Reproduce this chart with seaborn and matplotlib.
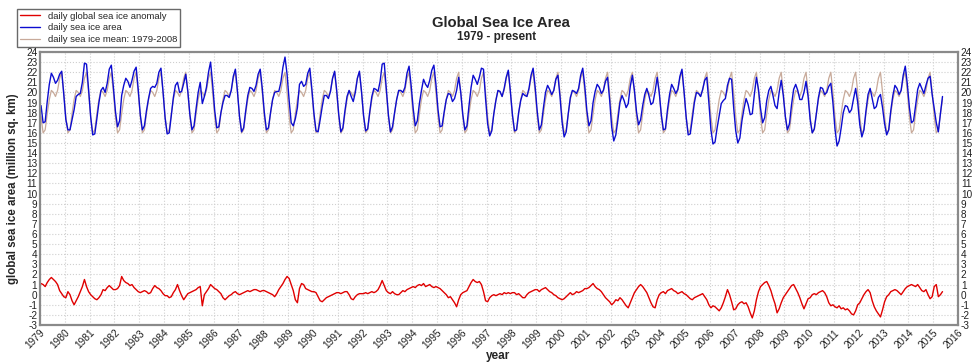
import numpy as np
import pandas as pd
from matplotlib import pyplot as plt
import seaborn as sns

# 1979-2008 mean, mid-month values (million sq. km)
mean_monthly = [17.6, 16.0, 16.3, 17.9, 19.3, 20.2, 20.0, 19.6, 20.2, 21.4, 22.0, 20.0]

# monthly anomaly, Jan..Dec, 1979 .. May 2015
anomaly = [
    1.1, 1.0, 0.8, 1.2, 1.5, 1.7, 1.5, 1.3, 1.0, 0.4, 0.1, -0.2,      # 1979
    -0.3, 0.3, 0.0, -0.6, -1.0, -0.6, -0.2, 0.3, 0.8, 1.5, 0.8, 0.3,  # 1980
    0.0, -0.2, -0.4, -0.5, -0.3, 0.0, 0.5, 0.4, 0.7, 0.9, 0.7, 0.5,   # 1981
    0.5, 0.6, 0.9, 1.8, 1.4, 1.2, 1.1, 0.9, 1.0, 0.7, 0.5, 0.3,       # 1982
    0.2, 0.3, 0.4, 0.3, 0.1, 0.2, 0.6, 0.9, 0.7, 0.6, 0.4, 0.1,       # 1983
    -0.1, -0.1, -0.3, -0.2, 0.2, 0.5, 1.0, 0.4, -0.1, -0.5, -0.2, 0.1,  # 1984
    0.2, 0.3, 0.4, 0.5, 0.7, 0.8, -1.1, 0.0, 0.3, 0.6, 1.0, 0.8,      # 1985
    0.6, 0.5, 0.3, 0.1, -0.3, -0.5, -0.3, -0.1, 0.0, 0.2, 0.3, 0.1,   # 1986
    0.0, 0.1, 0.2, 0.3, 0.4, 0.3, 0.4, 0.5, 0.5, 0.4, 0.3, 0.4,       # 1987
    0.4, 0.3, 0.2, 0.1, 0.0, -0.2, 0.1, 0.5, 0.8, 1.1, 1.5, 1.8,      # 1988
    1.6, 1.0, 0.4, -0.5, -0.8, 0.6, 1.1, 1.0, 0.6, 0.5, 0.4, 0.3,     # 1989
    0.3, 0.2, -0.2, -0.6, -0.7, -0.5, -0.3, -0.2, -0.1, 0.0, 0.1, 0.2,  # 1990
    0.2, 0.1, 0.2, 0.3, 0.3, 0.0, -0.4, -0.5, -0.2, 0.0, 0.1, 0.1,    # 1991
    0.1, 0.2, 0.1, 0.2, 0.3, 0.2, 0.3, 0.5, 0.9, 1.4, 0.9, 0.4,       # 1992
    0.2, 0.1, 0.3, 0.1, 0.0, 0.0, 0.2, 0.4, 0.3, 0.5, 0.6, 0.7,       # 1993
    0.8, 0.7, 0.9, 1.0, 0.9, 1.1, 0.8, 0.9, 1.0, 0.8, 0.7, 0.8,       # 1994
    0.7, 0.6, 0.4, 0.2, 0.0, -0.3, -0.2, -0.5, -0.8, -1.2, -0.5, 0.0,  # 1995
    0.2, 0.3, 0.4, 0.8, 1.2, 1.5, 1.3, 1.2, 1.3, 1.0, 0.3, -0.6,      # 1996
    -0.7, -0.3, -0.1, 0.0, -0.1, 0.0, 0.1, 0.0, 0.2, 0.1, 0.2, 0.1,   # 1997
    0.2, 0.2, 0.0, 0.1, -0.1, -0.3, -0.3, 0.0, 0.2, 0.3, 0.4, 0.5,    # 1998
    0.5, 0.3, 0.5, 0.6, 0.7, 0.5, 0.3, 0.2, 0.0, -0.1, -0.3, -0.4,    # 1999
    -0.5, -0.4, -0.2, 0.0, 0.2, 0.0, 0.1, 0.3, 0.2, 0.3, 0.4, 0.6,    # 2000
    0.6, 0.7, 0.9, 1.1, 0.8, 0.6, 0.5, 0.3, 0.0, -0.3, -0.5, -0.7,    # 2001
    -1.0, -0.8, -0.5, -0.6, -0.3, -0.5, -0.8, -1.1, -1.3, -0.8, -0.3, 0.2,  # 2002
    0.5, 0.8, 1.0, 0.8, 0.5, 0.2, -0.3, -0.8, -1.2, -1.3, -0.5, 0.0,  # 2003
    0.2, 0.3, 0.1, 0.4, 0.5, 0.6, 0.4, 0.3, 0.1, 0.2, 0.3, 0.1,       # 2004
    0.0, -0.2, -0.4, -0.5, -0.3, -0.2, -0.1, 0.0, 0.1, -0.2, -0.5, -1.0,  # 2005
    -1.3, -1.1, -1.2, -1.4, -1.6, -1.3, -0.8, -0.2, 0.5, 0.0, -0.7, -1.5,  # 2006
    -1.4, -1.0, -0.8, -0.7, -0.9, -0.8, -1.2, -1.8, -2.3, -1.6, -0.5, 0.3,  # 2007
    0.8, 1.0, 1.2, 1.3, 0.9, 0.4, -0.3, -0.9, -1.8, -1.4, -0.8, -0.3,  # 2008
    0.0, 0.3, 0.6, 0.9, 1.0, 0.6, 0.2, -0.3, -0.9, -1.4, -0.9, -0.4,  # 2009
    -0.3, 0.0, 0.1, 0.0, 0.2, 0.3, 0.4, 0.2, -0.2, -0.8, -1.1, -1.0,  # 2010
    -1.2, -1.3, -1.1, -1.4, -1.3, -1.5, -1.4, -1.6, -1.9, -2.0, -1.6, -1.0,  # 2011
    -0.8, -0.4, 0.0, 0.3, 0.5, 0.2, -0.6, -1.2, -1.6, -1.9, -2.2, -1.5,  # 2012
    -0.7, -0.2, 0.0, 0.3, 0.4, 0.5, 0.4, 0.2, 0.0, 0.3, 0.6, 0.8,     # 2013
    0.9, 1.0, 0.9, 0.8, 1.0, 0.7, 0.4, 0.3, 0.5, 0.0, -0.4, -0.2,     # 2014
    0.8, 1.0, -0.2, 0.0, 0.3,                                         # 2015
]

years = list(range(1979, 2017))

n = len(anomaly)
t = 1979 + (np.arange(n) + 0.5) / 12
mean = np.array((mean_monthly * 37)[:n])
area = mean + np.array(anomaly)

df = pd.DataFrame({'year': t, 'anomaly': anomaly, 'area': area, 'mean': mean})

sns.set_style('whitegrid')
plt.rcParams['font.family'] = ['Liberation Sans', 'DejaVu Sans']
plt.rcParams['axes.unicode_minus'] = False

fig = plt.figure(figsize=(9.8, 3.63), dpi=100)
ax = fig.add_axes([40/980, 1-325/363, 918/980, 273/363])

sns.lineplot(data=df, x='year', y='mean', color='#c8aa9a', lw=0.9, ax=ax,
             label='daily sea ice mean: 1979-2008', legend=False)
sns.lineplot(data=df, x='year', y='area', color='#0c0cd0', lw=1.0, ax=ax,
             label='daily sea ice area', legend=False)
sns.lineplot(data=df, x='year', y='anomaly', color='#e00000', lw=1.0, ax=ax,
             label='daily global sea ice anomaly', legend=False)

ax.set_xlim(1979, 2016)
ax.set_ylim(-3, 24)
ax.set_xticks(years)
ax.set_xticklabels([str(y) for y in years], rotation=45, ha='right',
                   rotation_mode='anchor', fontsize=7.3, color='#222222')
ax.set_yticks(range(-3, 25))
ax.tick_params(axis='y', labelsize=7.2, labelcolor='#222222', pad=2,
               right=True, labelright=True, length=0)
ax.tick_params(axis='x', length=0, pad=2)
ax.grid(True, color='#cfcfcf', linestyle=':', linewidth=0.8)
for s in ax.spines.values():
    s.set_color('#8a8a8a')
    s.set_linewidth(1.6)

ax.set_xlabel('')
ax.set_ylabel('global sea ice area (million sq. km)', fontsize=8.3,
              fontweight='bold', labelpad=5)
fig.text(0.508, 1-359/363, 'year', ha='center', va='baseline',
         fontsize=8.5, fontweight='bold')

fig.text(0.511, 1-27/363, 'Global Sea Ice Area', ha='center', va='baseline',
         fontsize=10.7, fontweight='bold')
fig.text(0.507, 1-40/363, '1979 - present', ha='center', va='baseline',
         fontsize=8.5, fontweight='bold')

h, l = ax.get_legend_handles_labels()
order = [2, 1, 0]
fig.legend([h[i] for i in order], [l[i] for i in order],
           loc='upper left', bbox_to_anchor=(12/980, 1-4/363), fontsize=6.8,
           frameon=True, fancybox=False, edgecolor='#444444',
           borderpad=0.3, labelspacing=0.3, handlelength=2.2)

fig.savefig('out.png', dpi=100)
